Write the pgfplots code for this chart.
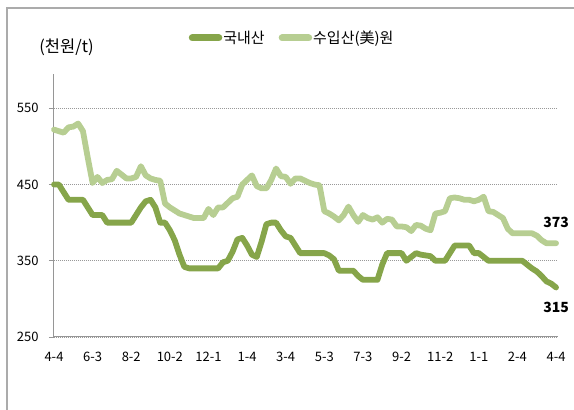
\documentclass[border=0pt]{standalone}
\usepackage{fontspec}
\setmainfont{Noto Sans CJK KR}
\usepackage{pgfplots}
\usepackage{pgfplotstable}
\pgfplotsset{compat=1.18}
\definecolor{dkg}{RGB}{134,165,74}
\definecolor{ltg}{RGB}{183,206,146}
\definecolor{axg}{RGB}{150,150,150}

\pgfplotstableread{
i dom imp
0 450 522
1 450 520
2 440 518
3 430 525
4 430 526
5 430 530
6 430 520
7 420 485
8 410 452
9 410 460
10 410 452
11 400 456
12 400 457
13 400 468
14 400 463
15 400 458
16 400 458
17 410 460
18 420 474
19 428 462
20 430 458
21 420 456
22 400 455
23 400 425
24 390 420
25 377 416
26 358 412
27 342 410
28 340 408
29 340 406
30 340 406
31 340 406
32 340 418
33 340 410
34 340 420
35 348 420
36 350 426
37 362 432
38 378 434
39 380 450
40 370 456
41 358 462
42 355 448
43 375 445
44 398 445
45 400 456
46 400 471
47 390 461
48 382 460
49 380 451
50 370 458
51 360 458
52 360 455
53 360 452
54 360 450
55 360 449
56 360 415
57 357 412
58 352 408
59 337 403
60 337 410
61 337 421
62 337 410
63 330 401
64 325 410
65 325 406
66 325 404
67 325 407
68 345 400
69 360 405
70 360 404
71 360 395
72 360 395
73 350 394
74 355 389
75 360 397
76 358 396
77 357 392
78 356 390
79 350 412
80 350 413
81 350 415
82 360 432
83 370 433
84 370 432
85 370 430
86 370 430
87 360 428
88 360 430
89 355 434
90 350 415
91 350 414
92 350 410
93 350 406
94 350 392
95 350 386
96 350 386
97 350 386
98 345 386
99 340 386
100 336 383
101 330 377
102 323 373
103 320 373
104 315 373
}\datatable

\begin{document}
\begin{tikzpicture}
\useasboundingbox (0pt,0pt) rectangle (574pt,410pt);
\draw[color=axg!80, line width=1.5pt] (7pt,-2pt) -- (7pt,402pt) -- (576pt,402pt);
\begin{axis}[
  at={(54pt,73pt)}, anchor=south west, scale only axis,
  width=503.5pt, height=263pt,
  xmin=0, xmax=104.3, ymin=250, ymax=595,
  axis x line*=bottom, axis y line*=left,
  axis line style={draw=axg, line width=1pt, -},
  ytick={250,350,450,550},
  xtick={0,8,...,104},
  xticklabels={4-4,6-3,8-2,10-2,12-1,1-4,3-4,5-3,7-3,9-2,11-2,1-1,2-4,4-4},
  tick align=outside,
  major tick length=5pt,
  y tick style={draw=axg, line width=0.8pt},
  x tick style={draw=none},
  ymajorgrids,
  major grid style={draw=gray!80, line width=0.8pt, dash pattern=on 0.8pt off 1.2pt},
  /pgf/number format/assume math mode=true,
  tick label style={font=\fontsize{13}{15}\selectfont, text=black},
  yticklabel style={xshift=-7pt},
  xticklabel style={yshift=-7pt},
  legend columns=2,
  legend style={at={(axis description cs:0.472,1.137)}, anchor=center, draw=none, fill=none,
    font=\fontsize{15}{17}\selectfont, nodes={inner sep=1pt, text=black},
    /tikz/every even column/.append style={column sep=13pt}},
  legend image code/.code={\draw[#1, line width=7pt, line cap=round] (3.5pt,0pt) -- (30pt,0pt);},
  clip=false,
]
\addplot[dkg, line width=5.8pt, line join=round, line cap=round] table[x=i, y=dom] {\datatable};
\addlegendentry{국내산}
\addplot[ltg, line width=5.8pt, line join=round, line cap=round] table[x=i, y=imp] {\datatable};
\addlegendentry{수입산(美)원}
\node[font=\fontsize{16.5}{18}\selectfont, text=black] at (axis description cs:0.025,1.103) {(천원/t)};
\node[font=\bfseries\fontsize{14}{15}\selectfont, text=black] at (axis cs:104,373) [yshift=21pt] {373};
\node[font=\bfseries\fontsize{14}{15}\selectfont, text=black] at (axis cs:104,315) [yshift=-20pt] {315};
\end{axis}
\end{tikzpicture}
\end{document}
